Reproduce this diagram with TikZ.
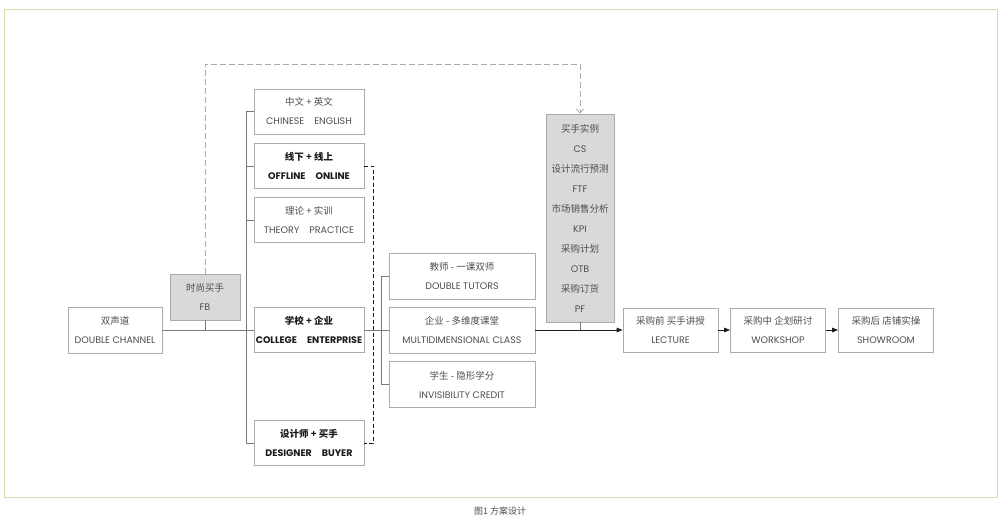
\documentclass[tikz,border=0pt]{standalone}
\usepackage{fontspec}
\setmainfont{Poppins}
\newfontfamily\cjk{Noto Sans CJK SC}
\usetikzlibrary{arrows.meta}
\definecolor{frameline}{HTML}{DCDCAE}
\definecolor{boxline}{HTML}{ABABAB}
\definecolor{boxfill}{HTML}{D9D9D9}
\definecolor{linkline}{HTML}{7A7A7A}
\definecolor{inkgray}{HTML}{4D4D4D}
\definecolor{inkdark}{HTML}{1A1A1A}
\newcommand{\wgap}{\hspace{10pt}}

\begin{document}
\begin{tikzpicture}[x=1pt,y=-1pt]
	\tikzset{every node/.style={font=\fontsize{9.5}{19}\selectfont,text=inkgray,align=center,inner sep=0pt}}
	\tikzset{plain/.style={draw=boxline,line width=0.8pt,minimum width=110pt,minimum height=45pt}}
	\tikzset{heavy/.style={plain,text=inkdark,font=\fontsize{9.5}{19}\selectfont\bfseries}}
	\tikzset{grey/.style={plain,fill=boxfill}}
	\tikzset{link/.style={draw=linkline,line width=0.8pt}}
	\tikzset{tie/.style={draw=inkdark,line width=0.8pt,dash pattern=on 4pt off 2.5pt}}
	\tikzset{trail/.style={draw=boxline,line width=0.8pt,dash pattern=on 6pt off 3pt}}
	\tikzset{flow/.style={draw=inkdark,line width=0.8pt,-{Triangle[length=6pt,width=4.5pt]}}}
	\useasboundingbox (0,0) rectangle (1000,529);
	\draw[frameline,line width=1pt] (4,10) rectangle (997,497);
	\node[plain,minimum width=94pt,minimum height=46pt] (dc) at (115,330) {{\cjk 双声道}\\DOUBLE CHANNEL};
	\node[grey,minimum width=70pt,minimum height=46pt] (fb) at (205,297) {{\cjk 时尚买手}\\FB};
	\node[plain] (cn) at (309,111.5) {{\cjk 中文 + 英文}\\CHINESE\wgap ENGLISH};
	\node[heavy] (ol) at (309,166) {{\cjk\bfseries 线下 + 线上}\\OFFLINE\wgap ONLINE};
	\node[plain] (th) at (309,220) {{\cjk 理论 + 实训}\\THEORY\wgap PRACTICE};
	\node[heavy] (co) at (309,330) {{\cjk\bfseries 学校 + 企业}\\COLLEGE\wgap ENTERPRISE};
	\node[heavy] (db) at (309,443) {{\cjk\bfseries 设计师 + 买手}\\DESIGNER\wgap BUYER};
	\node[plain,minimum width=146pt,minimum height=46pt] (dt) at (462,276) {{\cjk 教师 - 一课双师}\\DOUBLE TUTORS};
	\node[plain,minimum width=146pt,minimum height=46pt] (mc) at (462,330) {{\cjk 企业 - 多维度课堂}\\MULTIDIMENSIONAL CLASS};
	\node[plain,minimum width=146pt,minimum height=46pt] (ic) at (462,384.5) {{\cjk 学生 - 隐形学分}\\INVISIBILITY CREDIT};
	\node[grey,minimum width=68pt,minimum height=208pt,font=\fontsize{9.5}{20}\selectfont] (cases) at (580,218) {{\cjk 买手实例}\\CS\\{\cjk 设计流行预测}\\FTF\\{\cjk 市场销售分析}\\KPI\\{\cjk 采购计划}\\OTB\\{\cjk 采购订货}\\PF};
	\node[plain,minimum width=95pt,minimum height=44pt] (lec) at (670.5,330) {{\cjk 采购前 买手讲授}\\LECTURE};
	\node[plain,minimum width=95pt,minimum height=44pt] (ws) at (778,330) {{\cjk 采购中 企划研讨}\\WORKSHOP};
	\node[plain,minimum width=95pt,minimum height=44pt] (sr) at (886,330) {{\cjk 采购后 店铺实操}\\SHOWROOM};
	\coordinate (top) at (400,64);
	\draw[link] (dc.east) -- (co.west);
	\draw[link] (fb.south) -- (fb.south |- dc.east);
	\draw[link] (cn.west) -- ++(-7,0) |- (db.west);
	\foreach \n in {ol,th,co} \draw[link] (\n.west) -- ++(-7,0);
	\draw[tie] (ol.east) -- ++(9,0) |- (db.east);
	\draw[link] (co.east) -- (mc.west);
	\draw[link] (dt.west) -- ++(-7,0) |- (ic.west);
	\draw[flow] (mc.east) -- (lec.west);
	\draw[link] (cases.south) -- (cases.south |- mc.east);
	\draw[trail,-{Straight Barb[length=4pt,width=7pt]}] (fb.north) |- (top) -| (cases.north);
	\draw[flow] (lec.east) -- (ws.west);
	\draw[flow] (ws.east) -- (sr.west);
	\node[font=\cjk\fontsize{9}{9}\selectfont] (cap) at (500,511) {图1 方案设计};
\end{tikzpicture}
\end{document}
